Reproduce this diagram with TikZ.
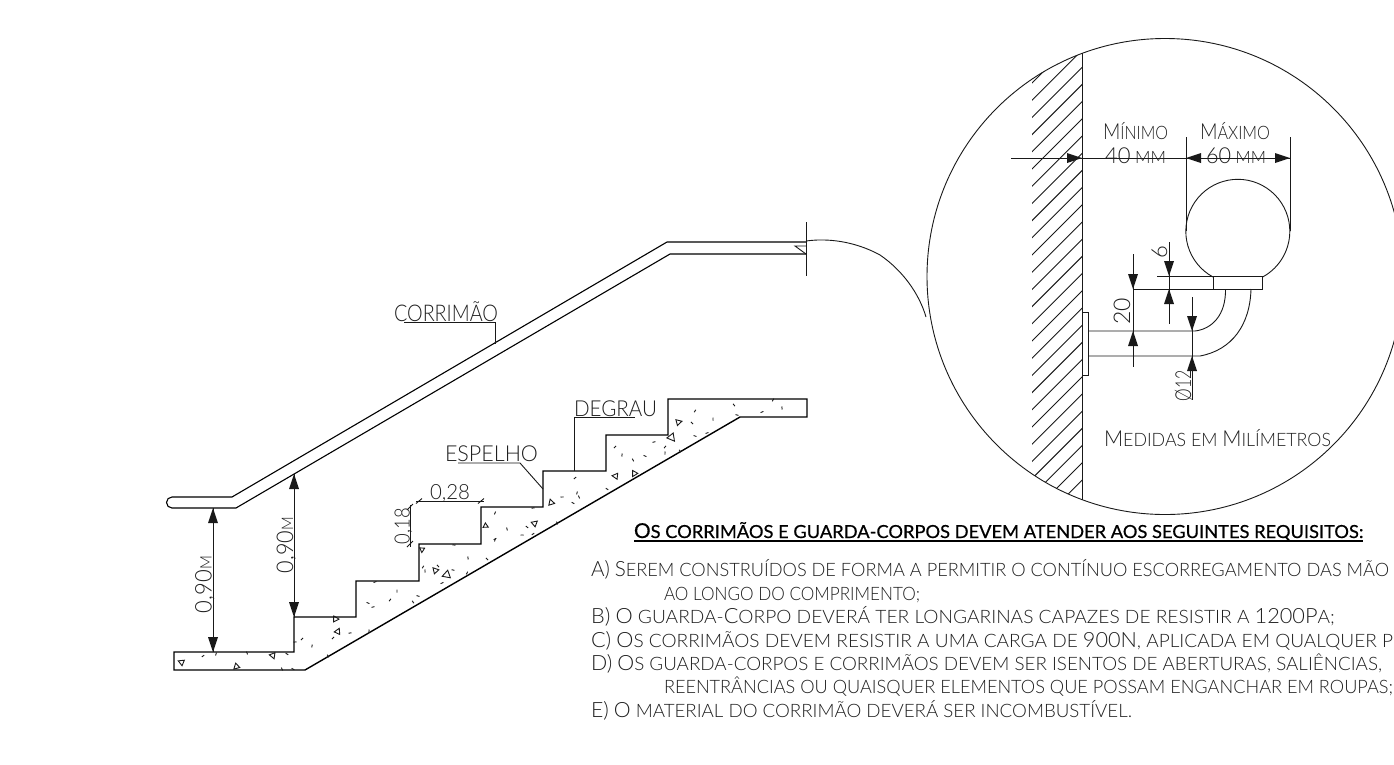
\documentclass[tikz,border=0pt]{standalone}
\usepackage{fontspec}
\usepackage{graphicx}
\usetikzlibrary{calc}
\setmainfont{Lato Light}
\newfontfamily\cadbold{Lato}[FakeBold=0.6]
\definecolor{ink}{gray}{0.1}
\definecolor{txt}{gray}{0.12}
\newcommand\fs[1]{\fontsize{#1pt}{#1pt}\selectfont}
\newcommand\B[1]{{\fs{21}#1}}
\newcommand\Bd[1]{{\fs{22}#1}}
\newcommand\lab[2]{\resizebox{#1pt}{\height}{\fs{18.5}#2}}
\newcommand\labs[3]{\resizebox{#1pt}{\height}{\fs{#2}#3}}
\newcommand\atip[3]{\fill[ink,shift={(#1,#2)},rotate=#3] (0,0)--(-15,5)--(-15,-5)--cycle;}
\tikzset{
 thin line/.style={draw=ink,line width=0.9pt},
 med line/.style={draw=ink,line width=1pt},
 heavy line/.style={draw=black,line width=1.4pt},
 tag/.style={inner sep=0pt,outer sep=0pt,text=txt,anchor=base west},
 vtag/.style={inner sep=0pt,outer sep=0pt,text=txt,anchor=base,rotate=90},
}
\begin{document}
\begin{tikzpicture}[x=1pt,y=-1pt]
\useasboundingbox[fill=white] (0,0) rectangle (1394,764);
% ---------- detail circle
\draw[thin line] (1165,276.5) circle (238);
\begin{scope}
 \clip (1032,0) rectangle (1082,764);
 \clip (1165,276.5) circle (238);
 \foreach \i in {0,...,26} \draw[thin line] ({1115+\i*17.2-1000},1000) -- ({1115+\i*17.2},0);
\end{scope}
\draw[med line] (1082,53) -- (1082,500);
% leader curve
\draw[thin line] (806,241) .. controls (835,237) and (862,245) .. (880,255) .. controls (902,270) and (919,293) .. (926,317);
% handrail section
\draw[thin line] (1238,231) ++(-25,46) arc[start angle=241.5,end angle=-61.5,radius=52,x radius=52,y radius=-52];
\draw[thin line] (1186,137) -- (1186,231);
\draw[thin line] (1290,137) -- (1290,231);
\draw[thin line] (1213,276) rectangle (1262,289);
\draw[thin line] (1157,276) -- (1213,276);
\draw[med line] (1133,289) -- (1213,289);
\draw[thin line] (1088,331) -- (1195,331) .. controls (1212,329) and (1226,315) .. (1225.5,289);
\draw[thin line] (1088,356) -- (1200,356) .. controls (1232,350) and (1250,325) .. (1251,289);
\draw[thin line] (1082,312) rectangle (1088.5,375);
% dims detail
\draw[med line] (1011,158) -- (1290,158);
\atip{1082}{158}{0}\atip{1186}{158}{180}\atip{1290}{158}{0}
\draw[thin line] (1169,242) -- (1169,324);
\atip{1169}{276}{270}\atip{1169}{289}{90}
\draw[thin line] (1133,254) -- (1133,367);
\atip{1133}{289}{270}\atip{1133}{331}{90}
\draw[thin line] (1192,297) -- (1192,400);
\atip{1192}{331}{270}\atip{1192}{356}{90}
\node[tag] (lmin) at (1103,139) {\labs{65}{18.5}{\Bd{M}ÍNIMO}};
\node[tag] (lmax) at (1200,139) {\labs{70}{18.5}{\Bd{M}ÁXIMO}};
\node[tag] (l40) at (1105,163) {\labs{61}{17}{\Bd{40} MM}};
\node[tag] (l60) at (1206,163) {\labs{60}{17}{\Bd{60} MM}};
\node[vtag] (l6) at (1167,252.5) {\fs{22}6};
\node[vtag] (l20) at (1130,311) {\fs{23}20};
\node[vtag] (l12) at (1191,385.5) {\labs{31}{22}{Ø12}};
\node[tag] (lmed) at (1104,446) {\labs{227}{18.5}{\Bd{M}EDIDAS EM \Bd{M}ILÍMETROS}};
% ---------- handrail
\draw[heavy line,line width=1.1pt] (806,242) -- (667,242) -- (232,497) -- (172,497) arc[start angle=90,end angle=270,radius=5.5,y radius=-5.5] -- (236,508) -- (670,254) -- (806,254);
\draw[thin line] (806,254) -- (795,246) -- (806,246);
\draw[med line] (806,222) -- (806,276);
% ---------- stair
\draw[heavy line,line join=miter] (174,652) -- (174,670) -- (305,670) -- (740,417) -- (807,417) -- (807,399) -- (668,399) -- (668,435) -- (606,435) -- (606,471) -- (543,471) -- (543,507) -- (481,507) -- (481,544) -- (419,544) -- (419,581) -- (356,581) -- (356,617) -- (294,617) -- (294,652) -- cycle;
% aggregate
\foreach \x/\y/\s [count=\i] in {181/662/6,236/667/6,273/656/6,336/619/6,338/631/6,435/570/6,446/575/8,422/550/5,486/526/5,535/523/6,551/502/6,615/476/6,634/474/6,672/438/8,679/422/6}
 \draw[thin line,rotate around={\i*67:(\x,\y)}] (\x-\s/2,\y+\s/2.5) -- (\x+\s/2,\y+\s/2.5) -- (\x,\y-\s/2) -- cycle;
\foreach \x/\y [count=\i] in {203/656,216/654,247/653,287/654,295/642,302/639,312/646,282/669,293/669,350/633,333/638,369/631,328/656,368/603,373/607,390/600,397/591,413/602,418/596,375/582,423/567,425/571,438/566,453/570,442/583,467/573,468/558,487/559,454/545,495/539,495/513,507/529,527/527,522/535,533/534,495/540,557/523,607/489,562/497,575/478,577/493,579/497,573/503,533/508,615/447,622/455,633/460,645/456,654/442,665/447,665/453,680/451,695/436,707/433,695/411,713/419,734/405,737/415,762/412,773/400,782/408,692/423}
 \draw[thin line,rotate around={\i*37:(\x,\y)}] (\x-1.5,\y) -- (\x+1.5,\y);
% dims stair
\draw[med line] (213,508) -- (213,652);
\atip{213}{508}{90}\atip{213}{652}{270}
\draw[med line] (294,474) -- (294,617);
\atip{294}{474}{90}\atip{294}{617}{270}
\node[vtag] (d90a) at (211.5,584.5) {\labs{57}{16}{{\fs{23}0,90}M}};
\node[vtag] (d90b) at (293,545) {\labs{56}{16}{{\fs{23}0,90}M}};
\draw[thin line] (416,501) -- (484,501);
\draw[thin line] (416,503.5) -- (422,498.5);
\draw[thin line] (478,503.5) -- (484,498.5);
\node[tag] (d28) at (430,499.5) {\labs{40}{21}{0,28}};
\draw[thin line] (410,505) -- (410,547);
\draw[thin line] (407,510) -- (413,504);
\draw[thin line] (407,547) -- (413,541);
\node[vtag] (d18) at (409.5,526) {\labs{36}{21}{0,18}};
% labels
\draw[thin line] (404,322) -- (495,322) -- (495,344);
\node[tag] (lcorr) at (394,321.5) {\labs{104}{23}{CORRIMÃO}};
\draw[thin line] (574.5,471) -- (574.5,417) -- (635,417);
\node[tag] (ldeg) at (574,416.5) {\labs{83}{22}{DEGRAU}};
\draw[thin line] (458,463) -- (520,463) -- (543,489);
\node[tag] (lesp) at (445,461) {\labs{93}{22}{ESPELHO}};
% ---------- text block
\node[tag,text=black] (title) at (634,538) {\resizebox{729pt}{\height}{\cadbold\fs{18}{\fs{20.5}O}S CORRIMÃOS E GUARDA-CORPOS DEVEM ATENDER AOS SEGUINTES REQUISITOS:}};
\draw[black,line width=1.6pt] (634,541) -- (1363,541);
\node[tag] (ta) at (591,576) {\lab{798}{\B{A)} \B{S}EREM CONSTRUÍDOS DE FORMA A PERMITIR O CONTÍNUO ESCORREGAMENTO DAS MÃO}};
\node[tag] (ta2) at (664,600) {\lab{256}{AO LONGO DO COMPRIMENTO;}};
\node[tag] (tb) at (591,623) {\lab{744}{\B{B)} \B{O} GUARDA-\B{C}ORPO DEVERÁ TER LONGARINAS CAPAZES DE RESISTIR A \B{1200P}A;}};
\node[tag] (tc) at (591,647) {\lab{802}{\B{C)} \B{O}S CORRIMÃOS DEVEM RESISTIR A UMA CARGA DE \B{900N}, APLICADA EM QUALQUER P}};
\node[tag] (td) at (591,670) {\lab{791}{\B{D)} \B{O}S GUARDA-CORPOS E CORRIMÃOS DEVEM SER ISENTOS DE ABERTURAS, SALIÊNCIAS,}};
\node[tag] (td2) at (664,693) {\lab{729}{REENTRÂNCIAS OU QUAISQUER ELEMENTOS QUE POSSAM ENGANCHAR EM ROUPAS;}};
\node[tag] (te) at (591,717) {\lab{541}{\B{E)} \B{O} MATERIAL DO CORRIMÃO DEVERÁ SER INCOMBUSTÍVEL.}};
\end{tikzpicture}
\end{document}
